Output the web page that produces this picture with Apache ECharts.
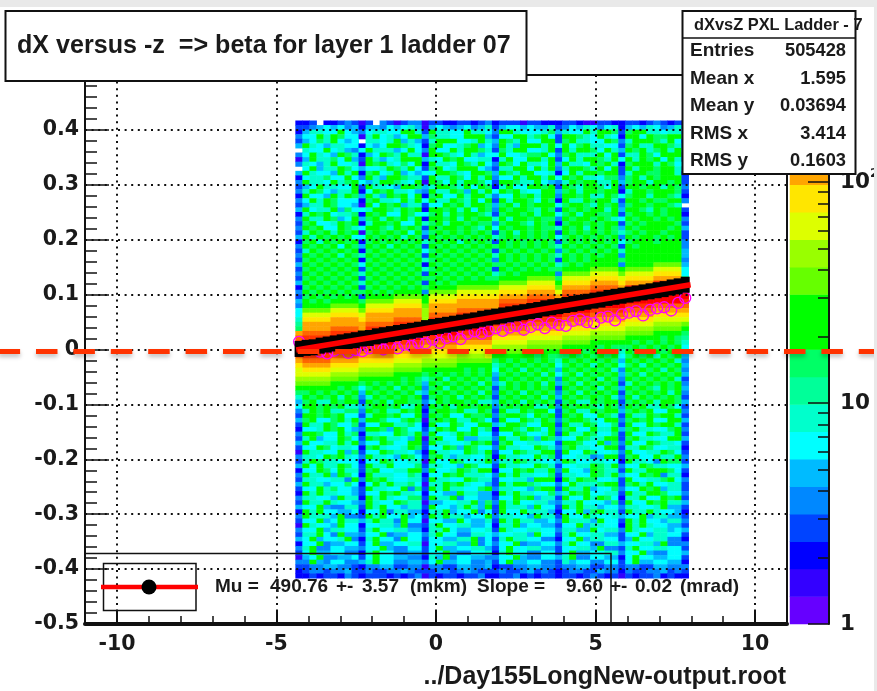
<!DOCTYPE html>
<html><head><meta charset="utf-8">
<style>html,body{margin:0;padding:0;background:#fff}#c{width:877px;height:691px;filter:blur(0.4px)}</style>
<script src="https://cdn.jsdelivr.net/npm/echarts@6/dist/echarts.min.js"></script>
</head><body><div id="c"></div>
<script>
const xTickLabels=[-10,-5,0,5,10];
const zTicksAll=[1,2,3,4,5,6,7,8,9,10,20,30,40,50,60,70,80,90,100,200,300];
const zTicksMajor=[1,10,100];
const bandColours=['#6600ff','#3300ff','#0000ff','#0044ff','#0088ff','#00bbff','#00ffff','#00ffcc','#00ff99','#00ff66','#00ff00','#00ff00','#66ff00','#99ff00','#ddff00','#ffe600','#ffa500','#ff6600','#ff3300','#ff0000'];
// colour-band index (base 36) read per cell, top row first; "." is an empty cell
const heatRows=[
"2 23.22343 1 3.431344 1 332233234 2 33313322 2 33211332 2 33234323 2",
"3 34565645 2 55465675 1 565456457 3 56656557 3 46576467 2 56576457 3",
"2 57766a65 4 67766aa7 3 a7766a776 4 aa766679 5 766a7aa9 3 9aa77677 3",
"4 66a7a966 1 7a6756aa 5 97766aaa5 3 66aa79a6 3 aa976a76 2 aa6a99aa 4",
"3 5697a656 . 7767a575 3 7aaa667a7 5 a97a66aa 3 9a7766a9 4 7aaa97a6 2",
"5 a7657766 2 656aa976 2 9a6679a56 4 a75aaa7a 6 a69a7766 3 9a77aa97 3",
". 766a6754 6 a77756a6 4 a66a7aa97 3 97aa667a 3 a7aa96a7 5 a9a79a7a 4",
"4 6a765a97 2 56a97a77 1 aa976a756 6 a66799a6 4 9a777a6a 3 77a96aaa 3",
"1 5a7796a5 3 a7567aaa 5 76a9a6677 2 7a66aa7a 3 6a7aa97a 6 a7a9a6a7 3",
"4 7657a667 1 a9a7696a 2 a776a97a6 4 a96a776a 5 a776a9a7 2 9aaa7a96 .",
". 6a577a96 5 667a97a6 3 9a67aaa65 3 77aa6a7a 4 7aa97a6a 3 a7aa9aa7 4",
"5 a7665a7a 2 9a67a565 6 6aa976aa9 5 a97aa667 2 6a7aa9aa 3 7aa99aa7 2",
"2 677966a6 4 a75aa977 3 a77a96a7a 4 66a7aa7a 6 a9a77699 4 9a7a9aaa 3",
"4 a776a79a 6 57aa976a 1 a96a7aa96 3 aa977a65 4 7a9aa77a 5 9aa7aa9a 3",
"3 56a7766a 3 a7765aa9 5 7aa97a6a9 2 7a66aa9a 3 a97aa96a 3 aa9aa7a9 4",
"4 7a96577a 2 6a9a7765 4 a77a95a7a 6 a9a766aa 5 9a7aa9aa 2 7aa9aaa9 3",
"2 a665a7a9 5 a75a9a6a 2 9a66a7aa7 4 66a9a7aa 4 aa9a77a9 6 9aa7aa97 2",
"4 6a7a9666 2 9a776a7a 6 a77a97a6a 3 a7aa96a9 2 a77a9aa7 3 aa9a99aa 4",
"3 577a9665 1 a6a9a577 3 66a9a7aa9 5 9a7a9aaa 6 9aa97a9a 4 9aa9aa97 .",
"5 a677a596 6 7aa97a9a 2 aa9a7a6a9 4 a9aa97a9 3 a9a9aa7a 5 aa97a9aa 3",
"2 7a9a6779 2 a9a66a96 6 9a7a9aa97 3 9aa9a7aa 6 9a7aa99a 3 9aa9a9aa 2",
"4 a77a956a 5 9a7a9a7a 2 aa9a7a9aa 7 a7aa9a99 4 a9aa9a97 6 a9aa9a9b 4",
"3 9a667a9a 2 7aa9a66a 7 9a7aa9a99 4 9aa97a9a 2 9aa9a9aa 3 9a9aaaa9 3",
"4 a9a66a97 6 aa97a9a9 3 a9aa9a97a 6 a9aa9a99 7 a9a7a9a9 5 a9aaab9a 5",
"3 7a9a7a9a 1 9a9a9a6a 5 9a9a9a9a9 3 9a7a9a9a 3 a9a9a9a9 7 9a9aa9ab 3",
"5 a7a9a9a6 6 a9a9a7a9 3 a9a9a9a9a 7 9a9a9a9a 6 9a9a9a9a 4 a9ba9a9a 3",
"2 9a7a9a9a 2 9a9a9a9a 7 9a9a7a9a9 3 a9a9a9a9 3 9a9a9a9a 6 9aba9aaa 4",
"4 a9a9a6a9 5 a9a7a9a9 3 a9a9a9a9a 9 a9a9a9a9 7 a9a9a9a9 3 a9abaaab 4",
"3 7a9a9a9a 2 9a9a9a9a 6 9a9a9a9a9 3 9a9a9a9a 4 9a9a9a9a 7 aaabaaba 5",
"4 a9a9a7a9 7 a9a9a9a9 3 a9a9a9a9a 7 a9a9a9a9 7 a9a9a9ab 4 babaaaba 5",
"3 9a9a9a9a 2 9a9a9a9a 7 9a9a9a9a9 4 a9a9a9a9 3 a9a9aaba 9 bbabaaaa 4",
"5 a9a9a9a9 6 a9a9a9a9 2 a9a9a9a9a 9 9a9a9a9a 7 9a9aaaaa 4 aaaacccc 5",
"3 9a9a9a9a 3 9a9a9a9a 7 9a9a9a9a9 3 a9a9a9a9 9 aaaacccc a cccceeee 6",
"4 a9a9a9a9 7 a9a9a9a9 3 a9a9a9a9a 7 9a9aaaaa 4 cccceeee c eeeeffff 6",
"3 9a9a9a9a 3 9a9a9a9a 9 9a9a9a9a9 9 aaaacccc 9 eeeeffff e ffffgggg 8",
"5 a9a9a9a9 7 a9a9a9a9 3 a9a9aaaaa a cccceeee a ffffgggg f ggggiiii 9",
"2 9a9a9a9a 3 9a9a9a9a 9 aaaaccccc c eeeeffff c gggghhhh g iiiijjjj h",
"4 a9a9a9a9 9 a9a9aaaa 4 cccceeeee e ffffgggg e hhhhiiii g jjjjjjjj j",
"3 9a9a9a9a 3 aaaacccc a eeeefffff f gggghhhh g iiiijjjj j jjjjjjjj j",
"5 a9a9aaaa 9 cccceeee a ffffggggg g hhhhiiii h jjjjjjjj j jjjjjjjj i",
"4 aaaacccc a eeeeffff c ggggggggg g iiiijjjj i jjjjjjjj j iiiihhhh h",
"6 cccceeee c ffffgggg d gggghhhhh g jjjjjjjj j jjjjiiii i hhhhgggg g",
"6 eeeeffff e gggggggg d hhhhiiiii h jjjjjjjj j iiiihhhh h ggggffff f",
"7 ffffgggg f gggghhhh d iiiijjjjj i jjjjiiii i hhhhgggg g ffffeeee e",
"8 gggggggg g hhhhiiii e jjjjjjjjj i iiiihhhh h ggggffff f eeeedddd c",
"9 gggghhhh g iiiijjjj g jjjjjjjjj h hhhhgggg g ffffeeee e ddddcccc a",
"g hhhhiiii h jjjjjjjj i jjjjiiiii g ggggffff f eeeedddd d ccccaaaa 9",
"h iiiijjjj i jjjjjjjj i iiiihhhhh f ffffeeee e ddddcccc c aaaaa9a9 8",
"i jjjjjjjj j jjjjiiii h hhhhggggg e eeeedddd d ccccaaaa a a9a9a9a9 7",
"i jjjjjjjj j iiiihhhh g ggggfffff d ddddcccc c aaaaa9a9 9 9a9a9a9a 6",
"i jjjjiiii h hhhhgggg f ffffeeeee c ccccaaaa a a9a9a9a9 7 a9a9a9a9 5",
"h iiiihhhh g ggggffff e eeeedddde a aaaaa9a9 9 9a9a9a9a 6 9a9a7a9a 5",
"g hhhhgggg f ffffeeee d ddddccccc 9 a9a9a9a9 7 a9a9a9a9 5 a9a9a9a7 4",
"f ggggffff e eeeedddd c ccccaaaaa 7 9a9a9a9a 6 9a9a7a9a 6 9a7a9a9a 5",
"e ffffeeee d ddddcccc a aaaaa9a9a 6 a9a7a9a9 5 a9a9a9a7 4 a9a9a7a9 4",
"e eeeedddd c ccccaaaa 9 a9a9a9a9a 5 9a9a9a7a 6 9a7a9a9a 5 9a7a9a9a 5",
"d ddddcccc a aaaaa9a9 7 9a7a9a9a9 4 a9a9a9a9 4 a9a9a7a9 4 a9a9a9a7 3",
"c ccccaaaa 9 a9a9a9a9 5 a9a9a9a7a 5 7a9a9a7a 5 9a7a9a9a 3 7a9a9a9a 4",
"a aaaaa9a9 6 9a9a7a9a 4 9a7a9a9a9 3 9a9a9a9a 3 a9a9a7a9 5 a9a97a9a 5",
"9 9a9a9a9a 5 a9a9a9a7 5 a9a9a9a7a 4 a9a7a9a9 4 9a7a9a9a 3 9a9a9a7a 4",
"7 a9a9a7a9 4 7a9a9a9a 3 9a9a7a9a9 3 9a9a9a7a 5 a9a9a9a7 4 a7a9a9a9 3",
"5 9a77a9aa 3 a9a7aa99 4 7a9aa9a77 5 a9a7a9a9 3 9a77a9aa 3 9a9a7aa9 5",
"6 aa9a9a77 5 9aa9a67a 3 a9a7aa9aa 4 9a9aa77a 4 a9aa97a9 4 a9a77a96 3",
"4 7a9a7799 4 a9a77a9a 2 9aa9a77a9 3 a77a9aa6 3 9a77a9aa 5 9a9a66aa 4",
"3 aa9a9a66 3 7aa9a66a 3 a9a66a99a 4 9aa96a9a 3 a9a66a97 3 a77a9aa7 3",
"5 9a669a7a 5 aa9669a9 1 9a9a77a96 3 a66a97a9 4 9aa976aa 4 9a9a66aa 5",
"3 a77a9669 3 66aa7796 2 a66a966aa 5 7aa966aa 3 a77a9669 3 a66a9aa7 3",
"2 667a9a65 4 aa95a966 3 7a9a66a79 2 aa97a96a 4 9a66a77a 5 9a77669a 4",
"4 aa966a79 2 7766a97a 4 a667a9a66 3 66a9667a 3 a77a9669 3 a66a977a 3",
"3 7a566a96 3 a9a7765a 1 9a66a5577 4 a77a95a9 5 66a977aa 3 9a7766aa 5",
"5 a6677a7a 4 66a966aa 3 a77667a9a 3 9a667766 3 aa966a59 4 a66a9776 3",
"3 66a96776 2 9a7667a9 3 66a95a966 4 a7766a97 4 9a7766aa 3 77a96677 2",
"1 a7766a59 3 66a97765 2 a7766a97a 3 66a977aa 3 a66a9667 4 a6677a96 3",
"4 776a9a76 4 a7765a96 3 9a7577669 2 a7766a79 3 667745aa 3 9a66a77a 4",
"3 7a977666 2 66a96677 1 a66a9667a 4 77a97766 5 a9667766 2 a7764a99 3",
"5 a6a77a96 3 a77a6669 3 77665a966 3 a7766a97 3 6677a97a 4 66a97766 5",
"2 66a96a77 3 9a6677aa 4 a667a97aa 2 66a9a77a 4 a665a977 3 a77aaa96 3",
"4 a77a5a96 2 a7776697 2 66a9a7776 4 a7a77669 3 7766a97a 5 66a9a477 2",
"3 7766774a 4 a9a76677 3 a7766a977 3 66775aaa 2 a7a99667 3 a66779a6 4",
"5 a7756696 2 6a7a7796 1 77a9a7665 3 a7aa9766 4 6a7779aa 3 9a7a6677 3",
"3 66a79665 3 a7766a49 3 a7a77669a 4 776659aa 3 a77a5669 4 66a9a577 3",
"2 a7a77665 3 66a9a776 2 6655a7755 2 a7a77669 5 7a9a6677 3 a77aa966 4",
"4 77665a77 2 a7a76699 3 a77a46655 3 66a9a577 3 a66a7a96 2 77a66a9a 3",
"3 a77a7665 4 a766a977 1 556677a59 4 a7a66775 4 77a66659 3 a66a9a77 5",
"5 66a54477 3 a7a66577 3 a6657a75a 3 a7775a66 3 a7a77566 4 77667a55 3",
"2 a7a66556 2 66a47755 2 77a566a46 3 a66a7775 2 66a59a77 3 a77a7665 2",
"4 a7775a44 3 a7a66a56 3 a7a77566a 4 77665a77 3 a66a7667 5 66a57755 3",
"3 66a56a77 5 7a774a66 1 6655a6557 3 a7a77556 4 a7775a66 3 a7a66577 4",
"1 a7665a66 2 66775a44 3 7a6677556 2 77a56655 3 66a57766 2 a7a76655 3",
"4 66a57766 3 7a667755 2 77a655667 3 a7667766 4 7755a677 4 a7667756 5",
"3 77a64a55 4 66a45566 4 7a6644776 5 66775a66 3 7a667755 3 66a57766 3",
"5 6a5667a4 2 7a664a66 3 665577a46 3 7a776644 2 66a57766 3 5a667744 2",
"2 66a45566 3 6a556677 1 667755a46 4 66a45566 4 7a664477 5 66775a44 4",
"4 7a446655 4 66a54466 3 6a5566775 3 6a667755 3 66775a44 3 7a667766 3",
"3 6a556644 2 7a664455 3 66a544667 2 7a664466 3 6a556677 4 66a54466 5",
"1 56a44556 3 6a665544 2 75a466554 4 66a54466 5 7a446655 2 6a665566 3",
"4 4a546644 5 7a664455 4 6a5566445 3 6a556644 3 75664466 3 6a556655 2",
"3 34455443 2 44553344 1 443355445 2 33445544 3 44553344 3 44335544 4",
"2 34434453 3 43344543 3 344345433 3 43345343 2 34433544 2 43344534 3",
"2 23233243 2 33323234 1 323323342 2 33423233 2 33234323 1 32334232 2"
];
const profileY=[0.001,0.003,0.004,0.007,0.009,0.011,0.013,0.015,0.017,0.020,0.021,0.024,0.026,0.028,0.030,0.032,0.034,0.036,0.039,0.041,0.043,0.045,0.047,0.049,0.051,0.053,0.056,0.058,0.060,0.062,0.064,0.066,0.068,0.070,0.072,0.075,0.077,0.079,0.081,0.083,0.085,0.087,0.089,0.091,0.094,0.096,0.098,0.100,0.102,0.104,0.106,0.108,0.110,0.113,0.115,0.118];
const meanY=[0.014,0.006,0.001,-0.004,-0.007,-0.002,0.002,-0.006,-0.001,-0.003,0.002,0.005,0.000,0.006,0.002,0.009,0.006,0.012,0.011,0.018,0.012,0.021,0.024,0.019,0.029,0.033,0.029,0.034,0.039,0.034,0.040,0.043,0.036,0.041,0.046,0.039,0.049,0.045,0.043,0.052,0.055,0.050,0.048,0.058,0.060,0.053,0.064,0.067,0.070,0.062,0.072,0.075,0.077,0.071,0.085,0.094];
const fitX=[-4.38,7.98];
const fitY=[-0.001,0.118];
const statNames=['Entries','Mean x','Mean y','RMS x','RMS y'];
const statValues=['505428','1.595','0.03694','3.414','0.1603'];
const legendParts=[['Mu =',215],['490.76',270],['+-',336],['3.57',362],['(mkm)',410],['Slope =',477],['9.60',566],['+-',610],['0.02',635],['(mrad)',680]];

const X_BINS=100, Y_BINS=120, FIRST_COL=30, TOP_ROW=109, BIN_W=0.22;
const cats=n=>Array.from({length:n},(_,i)=>i);
const heatData=[];
heatRows.forEach((row,r)=>{
  row.replace(/ /g,'').split('').forEach((ch,c)=>{
    if(ch!=='.') heatData.push([FIRST_COL+c,TOP_ROW-r,parseInt(ch,36)]);
  });
});
const colX=i=>-11+BIN_W*(FIRST_COL+i+0.5);
const BOLD='"DejaVu Sans"', SANS='"Liberation Sans"';
const chart=echarts.init(document.getElementById('c'),null,{renderer:'canvas'});
const txt=(x,y,s,size,align,font,z)=>({type:'text',z:z||30,x,y,style:{text:s,fill:'#1a1a1a',font:`bold ${size}px ${font||SANS}`,textAlign:align||'left',textVerticalAlign:'middle'}});
const rectEl=(x,y,w,h,fill,lw,z)=>({type:'rect',z:z||20,shape:{x,y,width:w,height:h},style:{fill:fill||'none',stroke:lw?'#111':null,lineWidth:lw||0}});
const statEls=[];
statNames.forEach((n,i)=>{
  const y=51+i*27.5;
  statEls.push(txt(690,y,n,19,'left'));
  statEls.push(txt(846,y,statValues[i],18.3,'right'));
});
chart.setOption({
  animation:false,backgroundColor:'#fff',
  grid:[
    {left:85,top:75,width:702,height:549,show:true,borderColor:'#111',borderWidth:2,backgroundColor:'#fff',z:0,outerBoundsMode:'none'},
    {left:790,top:75,width:39,height:549,show:false,outerBoundsMode:'none'}
  ],
  xAxis:[
    {gridIndex:0,type:'value',min:-11,max:11,position:'bottom',z:5,
      axisLine:{show:true,onZero:false,lineStyle:{color:'#111',width:4}},
      axisTick:{show:true,inside:true,length:14,customValues:xTickLabels,lineStyle:{color:'#111',width:2}},
      axisLabel:{customValues:xTickLabels,margin:10,color:'#1a1a1a',fontFamily:BOLD,fontWeight:'bold',fontSize:20.5},
      splitLine:{show:true,lineStyle:{color:'#111',type:[2,4.6],width:2}}},
    {gridIndex:0,type:'value',min:-11,max:11,interval:1,position:'bottom',z:5,
      axisLine:{show:false,onZero:false},
      axisTick:{show:true,inside:true,length:8,lineStyle:{color:'#111',width:1.5}},
      axisLabel:{show:false},splitLine:{show:false}},
    {gridIndex:0,type:'category',data:cats(X_BINS),show:false,position:'top'},
    {gridIndex:1,type:'category',data:['z'],show:false}
  ],
  yAxis:[
    {gridIndex:0,type:'value',min:-0.5,max:0.5,interval:0.1,position:'left',z:5,
      axisLine:{show:true,onZero:false,lineStyle:{color:'#111',width:2}},
      axisTick:{show:true,inside:true,length:24,lineStyle:{color:'#111',width:1.5}},
      minorTick:{show:true,splitNumber:5,length:12,lineStyle:{color:'#111',width:1.5}},
      axisLabel:{margin:6,color:'#1a1a1a',fontFamily:BOLD,fontWeight:'bold',fontSize:20.5,formatter:v=>(Math.abs(v)<1e-9?'0':String(+v.toFixed(1)))},
      splitLine:{show:true,lineStyle:{color:'#111',type:[2,4.6],width:2}}},
    {gridIndex:0,type:'category',data:cats(Y_BINS),show:false,position:'right'},
    {gridIndex:1,type:'category',data:cats(bandColours.length),show:false},
    {gridIndex:1,type:'log',min:1,max:305,logBase:10,position:'right',z:6,
      axisLine:{show:true,lineStyle:{color:'#111',width:2}},
      axisTick:{show:true,inside:true,length:11,customValues:zTicksAll,lineStyle:{color:'#111',width:1.5}},
      axisLabel:{show:false},splitLine:{show:false},minorTick:{show:false}},
    {gridIndex:1,type:'log',min:1,max:305,logBase:10,position:'right',z:6,
      axisLine:{show:false},
      axisTick:{show:true,inside:true,length:21,customValues:zTicksMajor,lineStyle:{color:'#111',width:1.5}},
      axisLabel:{show:true,customValues:zTicksMajor,margin:11,color:'#1a1a1a',
        formatter:v=>v>=100?'{b|10}{s|2}':String(v),
        fontFamily:BOLD,fontWeight:'bold',fontSize:21.5,
        rich:{b:{fontFamily:BOLD,fontWeight:'bold',fontSize:21.5,color:'#1a1a1a'},s:{fontFamily:BOLD,fontWeight:'bold',fontSize:13,color:'#1a1a1a',verticalAlign:'top',padding:[0,0,16,0]}}},
      splitLine:{show:false},minorTick:{show:false}}
  ],
  visualMap:{show:false,type:'piecewise',dimension:2,seriesIndex:[0,1],
    pieces:bandColours.map((color,value)=>({value,color}))},
  series:[
    {type:'heatmap',xAxisIndex:2,yAxisIndex:1,z:1,data:heatData,progressive:0,itemStyle:{borderWidth:0},emphasis:{disabled:true}},
    {type:'heatmap',xAxisIndex:3,yAxisIndex:2,z:1,data:bandColours.map((_,i)=>[0,i,i]),itemStyle:{borderWidth:0},emphasis:{disabled:true}},
    {type:'scatter',xAxisIndex:0,yAxisIndex:0,z:7,symbol:'circle',symbolSize:11,data:meanY.map((v,i)=>[colX(i),v]),
      itemStyle:{color:'rgba(0,0,0,0)',borderColor:'#f0f',borderWidth:1.3,opacity:1}},
    {type:'line',xAxisIndex:0,yAxisIndex:0,z:8,showSymbol:true,symbol:'rect',symbolSize:[9,16],lineStyle:{width:0},
      itemStyle:{color:'#000'},data:profileY.map((v,i)=>[colX(i),v])},
    {type:'line',xAxisIndex:0,yAxisIndex:0,z:9,showSymbol:false,lineStyle:{color:'#f00',width:5.5},data:fitX.map((x,i)=>[x,fitY[i]])}
  ],
  graphic:{elements:[
    rectEl(5.5,11,521,70,'#fff',2,20),
    txt(17,46,'dX versus -z  => beta for layer 1 ladder 07',25.1,'left',SANS,21),
    rectEl(85,553.5,526,70,null,1.5,12),
    rectEl(103.5,563.5,92.5,47,null,1.5,13),
    {type:'line',z:14,shape:{x1:101,y1:587,x2:198,y2:587},style:{stroke:'#f00',lineWidth:4.5}},
    {type:'circle',z:15,shape:{cx:149,cy:587,r:7.5},style:{fill:'#000'}},
    ...legendParts.map(([s,x])=>txt(x,587,s,19,'left',SANS,16)),
    txt(786,677,'../Day155LongNew-output.root',25,'right',SANS,16),
    {type:'line',z:18,shape:{x1:-1.4,y1:351.5,x2:880,y2:351.5},style:{stroke:'#ff3300',lineWidth:5,lineDash:[21.5,15.9],shadowColor:'rgba(0,0,0,0.25)',shadowBlur:4,shadowOffsetY:3}},
    rectEl(682.5,11,173,163,'#fff',2,22),
    {type:'line',z:23,shape:{x1:682,y1:38,x2:856,y2:38},style:{stroke:'#111',lineWidth:1.5}},
    txt(694,25,'dXvsZ PXL Ladder - 7',16.4,'left',SANS,31),
    ...statEls,
    {type:'rect',z:40,shape:{x:0,y:0,width:877,height:7},style:{fill:'#e9e9e9'}},
    {type:'rect',z:40,shape:{x:874,y:0,width:3,height:691},style:{fill:'#e9e9e9'}}
  ]}
});
</script></body></html>
